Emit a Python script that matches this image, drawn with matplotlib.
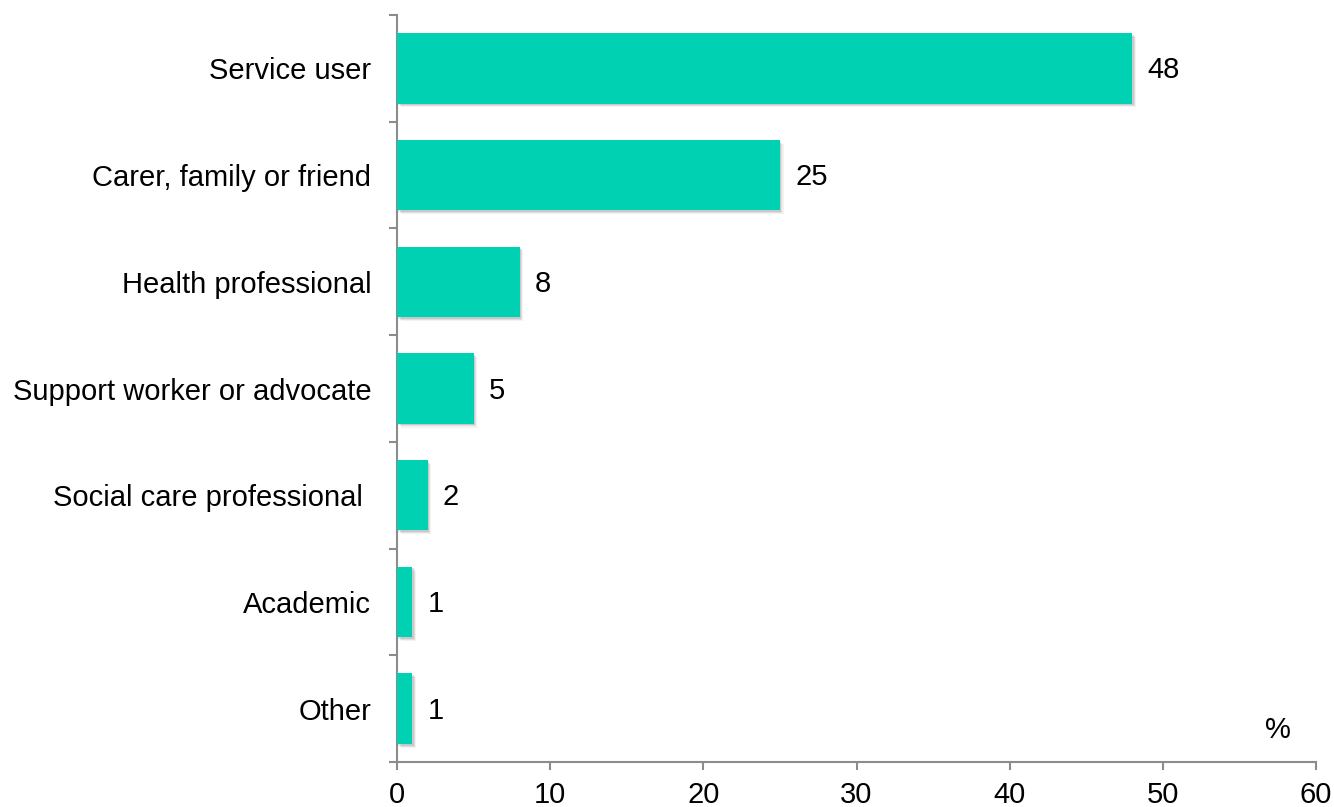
import matplotlib
matplotlib.use("Agg")
import matplotlib.pyplot as plt
import matplotlib.patheffects as pe

# respondent groups, top to bottom
groups = ["Service user", "Carer, family or friend", "Health professional",
          "Support worker or advocate", "Social care professional ", "Academic", "Other"]
percent = [48, 25, 8, 5, 2, 1, 1]
x_ticks = [0, 10, 20, 30, 40, 50, 60]

bar_colour = "#00d1b2"
axis_colour = "#8c8c8c"
fs = 21

plt.rcParams["font.family"] = ["Liberation Sans", "DejaVu Sans"]

fig = plt.figure(figsize=(13.34, 8.07), dpi=100)
ax = fig.add_axes([397 / 1334, 1 - 762 / 807, 919 / 1334, 747 / 807])

n = len(groups)
ypos = list(range(n))

# soft drop shadow built from a few offset layers
shadow = [
    pe.SimplePatchShadow(offset=(1.0, -1.2), shadow_rgbFace="black", alpha=0.10),
    pe.SimplePatchShadow(offset=(1.8, -2.0), shadow_rgbFace="black", alpha=0.08),
    pe.SimplePatchShadow(offset=(2.6, -2.8), shadow_rgbFace="black", alpha=0.05),
    pe.Normal(),
]
bars = ax.barh(ypos, percent, height=0.66, color=bar_colour, zorder=3)
for b in bars:
    b.set_path_effects(shadow)

for y, v in zip(ypos, percent):
    ax.text(v + 1.0, y + 0.02, str(v), va="center", ha="left", fontsize=fs, color="black")

ax.set_ylim(n - 0.5, -0.5)
ax.set_xlim(0, 60)
ax.set_xticks(x_ticks)
ax.set_xticklabels([str(t) for t in x_ticks])

# category labels between boundary ticks
ax.set_yticks([i - 0.5 for i in range(n + 1)])
ax.set_yticklabels([])
ax.set_yticks(ypos, minor=True)
ax.set_yticklabels(groups, minor=True)
ax.tick_params(axis="y", which="minor", length=0, pad=18.5, labelsize=fs)
ax.tick_params(axis="y", which="major", length=6, width=1.5, color=axis_colour)
ax.tick_params(axis="x", length=6, width=1.5, color=axis_colour, labelsize=fs, pad=7.5)

for side in ["top", "right"]:
    ax.spines[side].set_visible(False)
for side in ["left", "bottom"]:
    ax.spines[side].set_color(axis_colour)
    ax.spines[side].set_linewidth(1.5)

ax.text(57.5, 6.2, "%", ha="center", va="center", fontsize=fs)

fig.savefig("out.png", dpi=100)
